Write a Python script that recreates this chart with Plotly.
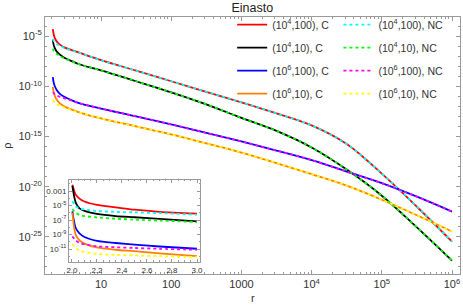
import plotly.graph_objects as go

# ---------------- data (log10 of rho) ----------------
r_main = [2.06, 2.12, 2.2, 2.35, 2.6, 3, 4, 5, 10, 31.6, 100, 316, 1000, 3162, 1e4, 31623, 1e5, 316228, 1e6]

C_1e4_100 = [-4.3, -4.85, -5.2, -5.55, -5.85, -6.12, -6.45, -6.68, -7.4, -8.45, -9.5, -10.55, -11.6, -12.7, -13.9, -15.75, -18.7, -22.0, -25.47]
C_1e4_10 = [-5.35, -5.9, -6.2, -6.55, -6.85, -7.15, -7.55, -7.83, -8.42, -9.5, -10.6, -11.8, -13.15, -14.45, -16.1, -18.3, -20.9, -24.05, -27.36]
C_1e6_100 = [-9.1, -9.65, -10.0, -10.4, -10.75, -11.05, -11.45, -11.7, -12.22, -13.0, -13.8, -14.65, -15.5, -16.4, -17.35, -18.5, -19.65, -21.0, -22.48]
C_1e6_10 = [-10.05, -10.6, -10.95, -11.35, -11.7, -12.0, -12.38, -12.62, -13.2, -14.0, -14.8, -15.7, -16.6, -17.65, -18.75, -19.9, -21.3, -22.85, -24.47]

NC_1e4_100 = [-5.3, -5.5, -5.65, -5.8, -5.95, -6.18, -6.47, -6.68, -7.4, -8.45, -9.5, -10.55, -11.6, -12.7, -13.9, -15.75, -18.7, -22.0, -25.47]
NC_1e4_10 = [-6.25, -6.45, -6.6, -6.8, -6.98, -7.22, -7.57, -7.83, -8.42, -9.5, -10.6, -11.8, -13.15, -14.45, -16.1, -18.3, -20.9, -24.05, -27.36]
NC_1e6_100 = [-10.6, -10.7, -10.8, -10.93, -11.05, -11.2, -11.47, -11.7, -12.22, -13.0, -13.8, -14.65, -15.5, -16.4, -17.35, -18.5, -19.65, -21.0, -22.48]
NC_1e6_10 = [-11.35, -11.5, -11.62, -11.78, -11.92, -12.1, -12.42, -12.63, -13.2, -14.0, -14.8, -15.7, -16.6, -17.65, -18.75, -19.9, -21.3, -22.85, -24.47]

r_inset = [2.003, 2.03, 2.06, 2.1, 2.2, 2.35, 2.5, 2.7, 3.0]
iC_1e4_100 = [-2.13, -3.5, -4.05, -4.45, -4.92, -5.25, -5.58, -5.87, -6.13]
iC_1e4_10 = [-2.3, -4.6, -5.4, -5.75, -6.15, -6.45, -6.62, -6.85, -7.18]
iC_1e6_100 = [-5.8, -8.1, -8.85, -9.35, -9.88, -10.17, -10.4, -10.65, -10.96]
iC_1e6_10 = [-6.0, -9.05, -9.8, -10.25, -10.78, -11.1, -11.3, -11.6, -11.97]
iNC_1e4_100 = [-4.42, -5.1, -5.4, -5.55, -5.75, -5.88, -5.94, -6.05, -6.27]
iNC_1e4_10 = [-5.5, -6.0, -6.3, -6.45, -6.65, -6.82, -6.95, -7.08, -7.28]
iNC_1e6_100 = [-9.25, -9.8, -10.17, -10.35, -10.63, -10.76, -10.86, -10.97, -11.1]
iNC_1e6_10 = [-10.31, -10.85, -11.23, -11.4, -11.69, -11.8, -11.87, -11.98, -12.1]

names_C = ["(10<sup>4</sup>,100), C", "(10<sup>4</sup>,10), C", "(10<sup>6</sup>,100), C", "(10<sup>6</sup>,10), C"]
names_NC = ["(10<sup>4</sup>,100), NC", "(10<sup>4</sup>,10), NC", "(10<sup>6</sup>,100), NC", "(10<sup>6</sup>,10), NC"]
colors_C = ["#ff0000", "#000000", "#0000ff", "#ff8000"]
colors_NC = ["#00ffff", "#00ff00", "#ff00ff", "#ffff00"]

x_ticks = [10, 100, 1000, 1e4, 1e5, 1e6]
x_ticktext = ["10", "100", "1000", "10<sup>4</sup>", "10<sup>5</sup>", "10<sup>6</sup>"]
y_ticks = [1e-5, 1e-10, 1e-15, 1e-20, 1e-25]
y_ticktext = ["10<sup>-5</sup>", "10<sup>-10</sup>", "10<sup>-15</sup>", "10<sup>-20</sup>", "10<sup>-25</sup>"]
iy_ticks = [1e-3, 1e-5, 1e-7, 1e-9, 1e-11]
iy_ticktext = ["0.001", "10<sup>-5</sup>", "10<sup>-7</sup>", "10<sup>-9</sup>", "10<sup>-11</sup>"]
ix_ticks = [2.0, 2.2, 2.4, 2.6, 2.8, 3.0]

main_C = [C_1e4_100, C_1e4_10, C_1e6_100, C_1e6_10]
main_NC = [NC_1e4_100, NC_1e4_10, NC_1e6_100, NC_1e6_10]
ins_C = [iC_1e4_100, iC_1e4_10, iC_1e6_100, iC_1e6_10]
ins_NC = [iNC_1e4_100, iNC_1e4_10, iNC_1e6_100, iNC_1e6_10]

fig = go.Figure()
FONT = "Liberation Sans, Arial, sans-serif"
LW = 1.8
SM = 1.0

for i in range(4):
    fig.add_trace(go.Scatter(x=r_main, y=[10 ** v for v in main_C[i]], mode="lines",
                             line=dict(color=colors_C[i], width=LW, shape="spline", smoothing=SM),
                             name=names_C[i], legend="legend", legendgroup="c%d" % i))
for i in range(4):
    fig.add_trace(go.Scatter(x=r_main, y=[10 ** v for v in main_NC[i]], mode="lines",
                             line=dict(color=colors_NC[i], width=LW, dash="3px,3px", shape="spline", smoothing=SM),
                             name=names_NC[i], legend="legend2", legendgroup="n%d" % i))
for i in range(4):
    fig.add_trace(go.Scatter(x=r_inset, y=[10 ** v for v in ins_C[i]], mode="lines",
                             line=dict(color=colors_C[i], width=LW, shape="spline", smoothing=0.8),
                             xaxis="x2", yaxis="y2", showlegend=False))
for i in range(4):
    fig.add_trace(go.Scatter(x=r_inset, y=[10 ** v for v in ins_NC[i]], mode="lines",
                             line=dict(color=colors_NC[i], width=LW, dash="3px,3px", shape="spline", smoothing=0.8),
                             xaxis="x2", yaxis="y2", showlegend=False))

axcol = "#9a9a9a"
fig.update_layout(
    width=463, height=308,
    margin=dict(l=45, r=3, t=17, b=34),
    paper_bgcolor="white", plot_bgcolor="white",
    font=dict(family=FONT, size=11, color="#333"),
    title=dict(text="Einasto", x=0.545, xanchor="center", y=0.99, yanchor="top",
               font=dict(size=12.5, color="#222")),
    xaxis=dict(type="log", range=[0.2023, 6.114], showgrid=False, zeroline=False, automargin=False,
               showline=True, linecolor=axcol, linewidth=1, mirror="ticks",
               ticks="inside", ticklen=4, tickcolor=axcol, ticklabeloverflow="allow",
               tickvals=x_ticks, ticktext=x_ticktext, tickfont=dict(size=11, color="#333"),
               minor=dict(ticks="inside", ticklen=2, tickcolor=axcol, dtick="D1")),
    yaxis=dict(type="log", range=[-28.7, -3.1], showgrid=False, zeroline=False, automargin=False,
               showline=True, linecolor=axcol, linewidth=1, mirror="ticks",
               ticks="inside", ticklen=4, tickcolor=axcol,
               tickvals=y_ticks, ticktext=y_ticktext, tickfont=dict(size=11, color="#333"),
               minor=dict(ticks="inside", ticklen=2, tickcolor=axcol, dtick=1),
               title=dict(text="ρ", font=dict(size=11), standoff=4)),
    xaxis2=dict(domain=[0.0578, 0.3735], anchor="y2", range=[1.976, 3.024], showgrid=False, zeroline=False,
                automargin=False,
                showline=True, linecolor=axcol, linewidth=1, mirror="ticks",
                ticks="inside", ticklen=3, tickcolor=axcol,
                tickvals=ix_ticks, tickformat=".1f", tickfont=dict(size=8, color="#333"),
                minor=dict(ticks="inside", ticklen=1.5, tickcolor=axcol, dtick=0.05)),
    yaxis2=dict(domain=[0.0467, 0.3658], anchor="x2", type="log", range=[-12.79, -1.48],
                showgrid=False, zeroline=False, automargin=False,
                showline=True, linecolor=axcol, linewidth=1, mirror="ticks",
                ticks="inside", ticklen=3, tickcolor=axcol,
                tickvals=iy_ticks, ticktext=iy_ticktext, tickfont=dict(size=8, color="#333"),
                minor=dict(ticks="inside", ticklen=1.5, tickcolor=axcol, dtick=1)),
    legend=dict(x=0.451, y=1.027, xanchor="left", yanchor="top", bgcolor="rgba(0,0,0,0)",
                font=dict(size=10.5, color="#333"), tracegroupgap=4, itemwidth=30),
    legend2=dict(x=0.707, y=1.027, xanchor="left", yanchor="top", bgcolor="rgba(0,0,0,0)",
                 font=dict(size=10.5, color="#333"), tracegroupgap=4, itemwidth=30),
    annotations=[dict(text="r", xref="paper", yref="paper", x=0.5, y=-0.0934, xanchor="center",
                      yanchor="middle", showarrow=False, font=dict(size=11, color="#333"))],
)

fig.write_html("out.html", config={"displayModeBar": False},
               post_script="document.body.style.margin='0';document.body.style.overflow='hidden';")
